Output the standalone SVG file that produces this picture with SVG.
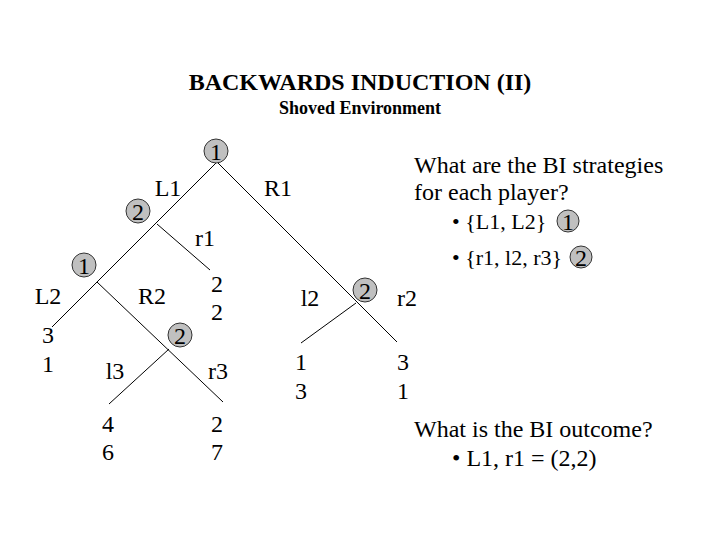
<svg xmlns="http://www.w3.org/2000/svg" width="720" height="540" viewBox="0 0 720 540">
<style>
text{font-family:"Liberation Serif","Times New Roman",serif;fill:#000}
.t{font-size:24px}
.m{text-anchor:middle}
.b{font-size:22px}
.c circle{fill:#c0c0c0;stroke:#333;stroke-width:1}
.c text{font-size:24px;text-anchor:middle}
#edges line{stroke:#000;stroke-width:1}
</style>
<rect width="720" height="540" fill="#fff"/>
<text x="360" y="90" class="m" font-size="24" font-weight="bold">BACKWARDS INDUCTION (II)</text>
<text x="360" y="114" class="m" font-size="18" font-weight="bold">Shoved Environment</text>
<g id="edges">
<line x1="216" y1="163" x2="52" y2="327"/>
<line x1="157" y1="224" x2="210" y2="270"/>
<line x1="97" y1="282" x2="223" y2="402"/>
<line x1="169" y1="349" x2="109" y2="404"/>
<line x1="218" y1="163" x2="397" y2="342"/>
<line x1="356" y1="303" x2="301" y2="343"/>
</g>
<g id="n1" class="c"><circle cx="216" cy="151" r="12"/><text x="216" y="160">1</text></g>
<g id="n2" class="c"><circle cx="138" cy="211" r="12"/><text x="138" y="220">2</text></g>
<g id="n3" class="c"><circle cx="84" cy="265" r="12"/><text x="84" y="274">1</text></g>
<g id="n4" class="c"><circle cx="180" cy="335" r="12"/><text x="180" y="344">2</text></g>
<g id="n5" class="c"><circle cx="365" cy="290" r="12"/><text x="365" y="299">2</text></g>
<g id="labels" class="t">
<text x="168" y="196" class="m">L1</text>
<text x="278" y="196" class="m">R1</text>
<text x="205" y="246" class="m">r1</text>
<text x="48" y="304" class="m">L2</text>
<text x="152" y="304" class="m">R2</text>
<text x="217" y="292" class="m">2</text>
<text x="217" y="320" class="m">2</text>
<text x="310" y="306" class="m">l2</text>
<text x="407" y="306" class="m">r2</text>
<text x="48" y="343" class="m">3</text>
<text x="48" y="372" class="m">1</text>
<text x="115" y="379" class="m">l3</text>
<text x="218" y="379" class="m">r3</text>
<text x="301" y="370" class="m">1</text>
<text x="301" y="399" class="m">3</text>
<text x="403" y="370" class="m">3</text>
<text x="403" y="399" class="m">1</text>
<text x="108" y="432" class="m">4</text>
<text x="108" y="460" class="m">6</text>
<text x="217" y="432" class="m">2</text>
<text x="217" y="460" class="m">7</text>
</g>
<g id="q" class="t">
<text x="414" y="173">What are the BI strategies</text>
<text x="414" y="200">for each player?</text>
<text x="452" y="229" class="b">• {L1, L2}</text>
<text x="452" y="265" class="b">• {r1, l2, r3}</text>
<text x="414" y="437">What is the BI outcome?</text>
<text x="452" y="466">• L1, r1 = (2,2)</text>
</g>
<g id="k1" class="c"><circle cx="568" cy="221" r="11"/><text x="568" y="230">1</text></g>
<g id="k2" class="c"><circle cx="581" cy="257" r="11"/><text x="581" y="266">2</text></g>
</svg>
